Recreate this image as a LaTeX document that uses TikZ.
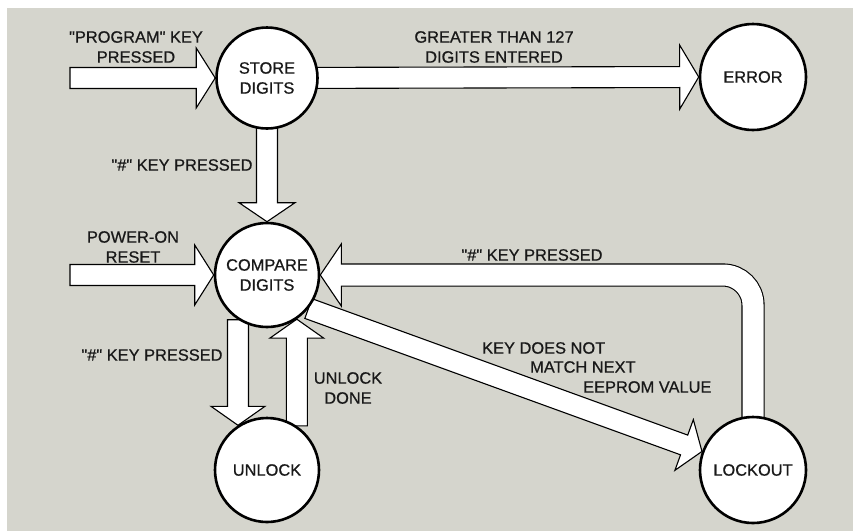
\documentclass[tikz,border=0pt]{standalone}
\usepackage{fontspec}
\setmainfont{Liberation Sans}[Ligatures=TeXOff]
\newfontfamily\lblfont{Liberation Sans}[Ligatures=TeXOff, FakeBold=0.7]
\usetikzlibrary{calc}
\definecolor{bg}{RGB}{213,213,205}
\pgfdeclarelayer{bglayer}
\pgfdeclarelayer{arrlayer}
\pgfsetlayers{bglayer,arrlayer,main}
\def\fasw{10.5pt}
\def\fahl{19pt}
\newcommand\fatarr[3][30pt]{%
  \coordinate (fa-h) at ($(#3)!\fahl!(#2)$);
  \filldraw[arrbox]
    ($(#2)!\fasw!90:(#3)$) -- ($(fa-h)!\fasw!90:(#3)$) -- ($(fa-h)!#1!90:(#3)$)
    -- (#3) -- ($(fa-h)!#1!-90:(#3)$) -- ($(fa-h)!\fasw!-90:(#3)$)
    -- ($(#2)!\fasw!-90:(#3)$) -- cycle;}
\tikzset{
  state/.style={circle, draw=black, fill=white, line width=2.6pt, inner sep=0pt,
    minimum size=104pt, font=\lblfont\fontsize{16.4}{20}\selectfont, align=center, text=black!90},
  lbl/.style={font=\lblfont\fontsize{16.4}{20}\selectfont, align=center, inner sep=0pt, text=black!90},
  arrbox/.style={fill=white, draw=black, line width=1.1pt, line join=miter},
}
\begin{document}
\begin{tikzpicture}[x=1pt,y=-1pt]
\useasboundingbox (0,0) rectangle (853,531);
\begin{pgfonlayer}{bglayer}
\fill[bg] (7,8) rectangle (853,531);
\end{pgfonlayer}

% states
\node[state, minimum size=101pt] (store) at (267,78) {STORE\\DIGITS};
\node[state, minimum size=106pt] (error) at (753,77) {ERROR};
\node[state] (compare) at (267,275) {COMPARE\\DIGITS};
\node[state] (unlock) at (267,470) {UNLOCK};
\node[state, minimum size=106pt] (lockout) at (753,470) {LOCKOUT};

\coordinate (pin) at (70,78);
\coordinate (rin) at (70,275);

\begin{pgfonlayer}{arrlayer}
\fatarr{pin}{store.west}
\fatarr[32pt]{store.center}{error.west}
\fatarr[28pt]{store.center}{compare.north}
\fatarr{rin}{compare.west}
\fatarr[27pt]{compare.237}{unlock.123}
\fatarr[27pt]{unlock.56}{compare.304}
\fatarr[27pt]{compare.-39}{lockout.160}
% curved feedback arrow
\coordinate (c1) at (lockout.center |- compare.east);
\coordinate (cb) at ($(compare.east)+(21,0)$);
\draw[line width=23.2pt, black, rounded corners=30pt] (lockout.center) -- (c1) -- (cb);
\draw[line width=21pt, white, rounded corners=30pt] (lockout.center) -- (c1) -- (cb);
\fill[white] ($(cb)+(0.6,-31)$) -- (compare.east) -- ($(cb)+(0.6,31)$) -- cycle;
\draw[black, line width=1.1pt, line join=miter]
  ($(cb)+(0,-10.5)$) -- ($(cb)+(0,-31)$) -- (compare.east) -- ($(cb)+(0,31)$) -- ($(cb)+(0,10.5)$);
\end{pgfonlayer}

% labels
\node[lbl] (l1) at (136,47) {"PROGRAM" KEY\\PRESSED};
\node[lbl] (l2) at (494,47) {GREATER THAN 127\\DIGITS ENTERED};
\node[lbl] (l3) at (182,165) {"\#" KEY PRESSED};
\node[lbl] (l4) at (133,247) {POWER-ON\\RESET};
\node[lbl] (l5) at (532,255) {"\#" KEY PRESSED};
\node[lbl] (l6) at (152,355) {"\#" KEY PRESSED};
\node[lbl] (l7) at (348,388) {UNLOCK\\DONE};
\node[lbl, anchor=west] (l8a) at (482,348) {KEY DOES NOT};
\node[lbl, anchor=west] (l8b) at (530,367) {MATCH NEXT};
\node[lbl, anchor=west] (l8c) at (583,387) {EEPROM VALUE};
\end{tikzpicture}
\end{document}
